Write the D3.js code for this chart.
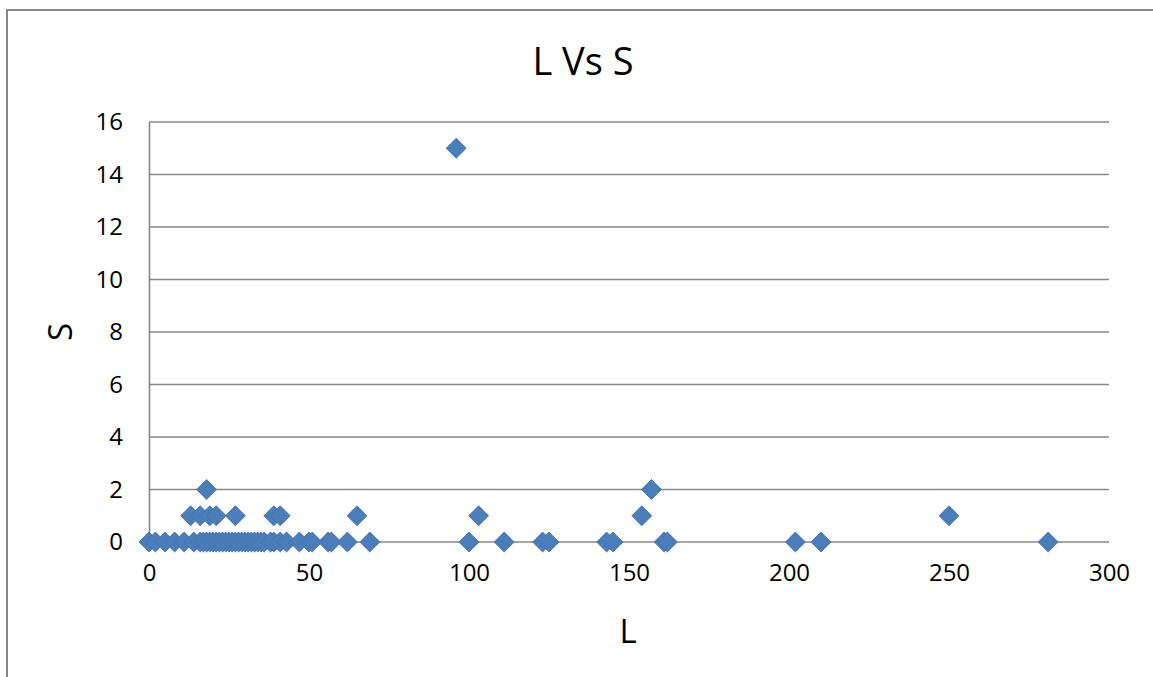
<!DOCTYPE html>
<html>
<head>
<meta charset="utf-8">
<script src="https://cdnjs.cloudflare.com/ajax/libs/d3/7.8.5/d3.min.js"></script>
<style>
    body { margin: 0; background: #fff; }
    text { font-family: 'Open Sans', 'Noto Sans', sans-serif; fill: #000; }
</style>
</head>
<body>
<section class="chart"></section>
<script>
'use strict';

/** DATA */
var lValues = [0, 2, 5, 8, 11, 14, 16, 17, 18, 19, 20, 21, 22, 23, 24, 25, 26, 27, 28, 29, 30, 31, 32, 33, 34, 35, 36, 38, 39, 41, 43, 47, 50, 51, 56, 57, 62, 69, 100, 111, 123, 125, 143, 145, 161, 162, 202, 210, 281,
    13, 16, 19, 21, 27, 39, 41, 65, 103, 154, 250,
    18, 157,
    96];
var sValues = [0, 0, 0, 0, 0, 0, 0, 0, 0, 0, 0, 0, 0, 0, 0, 0, 0, 0, 0, 0, 0, 0, 0, 0, 0, 0, 0, 0, 0, 0, 0, 0, 0, 0, 0, 0, 0, 0, 0, 0, 0, 0, 0, 0, 0, 0, 0, 0, 0,
    1, 1, 1, 1, 1, 1, 1, 1, 1, 1, 1,
    2, 2,
    15];
var xTicks = [0, 50, 100, 150, 200, 250, 300];
var yTicks = [0, 2, 4, 6, 8, 10, 12, 14, 16];

var w = 1153,
    h = 677;

var svg = d3.select('section.chart')
    .append('svg')
    .attr('width', w)
    .attr('height', h);

/** outer chart frame */
svg.append('rect')
    .attr('x', 7)
    .attr('y', 10)
    .attr('width', w + 20)
    .attr('height', h + 20)
    .attr('fill', 'none')
    .attr('stroke', '#878787')
    .attr('stroke-width', 2);

var x = d3.scaleLinear().domain([0, 300]).range([149, 1109]);
var y = d3.scaleLinear().domain([0, 16]).range([542, 122]);

/** gridlines */
svg.append('g')
    .selectAll('line')
    .data(yTicks)
    .enter()
    .append('line')
    .attr('x1', x(0))
    .attr('x2', x(300))
    .attr('y1', function(d) { return y(d); })
    .attr('y2', function(d) { return y(d); })
    .attr('stroke', '#878787')
    .attr('stroke-width', 1.6);

/** y axis */
var yAxis = svg.append('g')
    .attr('transform', 'translate(' + x(0) + ',0)')
    .call(d3.axisLeft(y).tickValues(yTicks).tickSize(0).tickPadding(26));
yAxis.select('.domain').attr('stroke', '#878787').attr('stroke-width', 1.6);
yAxis.selectAll('text').style('font-size', '24px').attr('fill', '#000');

/** x axis */
var xAxis = svg.append('g')
    .attr('transform', 'translate(0,' + y(0) + ')')
    .call(d3.axisBottom(x).tickValues(xTicks).tickSize(0).tickPadding(22));
xAxis.select('.domain').remove();
xAxis.selectAll('text').style('font-size', '24px').attr('fill', '#000');

/** title and axis labels */
svg.append('text')
    .attr('x', 583)
    .attr('y', 75)
    .attr('text-anchor', 'middle')
    .style('font-size', '38px')
    .text('L Vs S');

svg.append('text')
    .attr('x', 628)
    .attr('y', 643)
    .attr('text-anchor', 'middle')
    .style('font-size', '33px')
    .text('L');

svg.append('text')
    .attr('transform', 'translate(72,332) rotate(-90)')
    .attr('text-anchor', 'middle')
    .style('font-size', '33px')
    .text('S');

/** diamond markers */
var diamond = d3.symbol().type(d3.symbolSquare).size(200);
svg.append('g')
    .selectAll('path')
    .data(d3.range(lValues.length))
    .enter()
    .append('path')
    .attr('d', diamond)
    .attr('transform', function(i) {
        return 'translate(' + x(lValues[i]) + ',' + y(sValues[i]) + ') rotate(45)';
    })
    .attr('fill', '#4a7ebb')
    .attr('stroke', '#4272ad')
    .attr('stroke-width', 0.8);
</script>
</body>
</html>
